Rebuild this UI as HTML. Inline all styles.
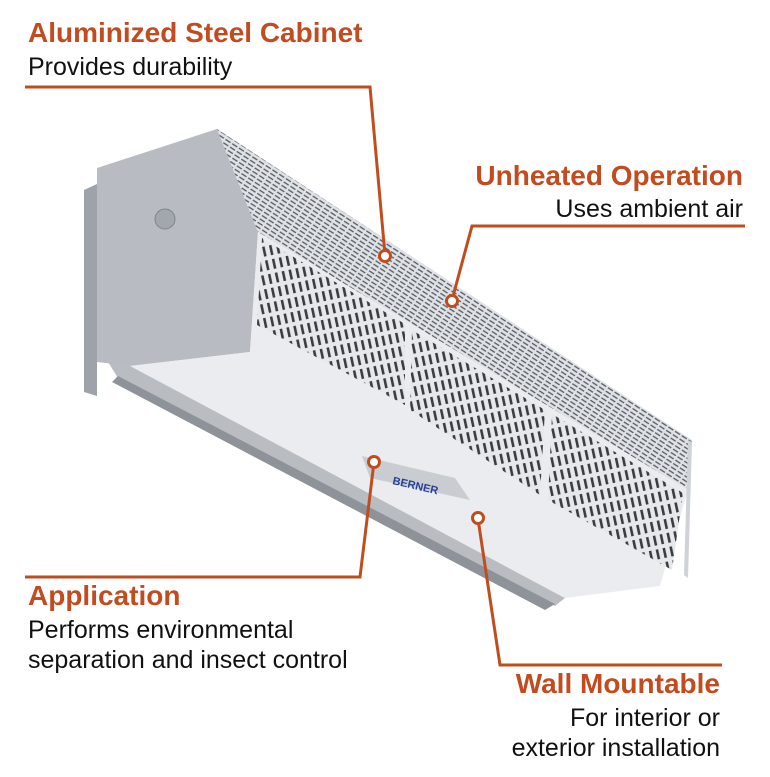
<!DOCTYPE html>
<html><head><meta charset="utf-8"><style>
html,body{margin:0;padding:0;background:#fff;}
svg{display:block}
.t{font-family:"Liberation Sans",sans-serif;font-weight:bold;fill:#c24b1f;font-size:28px}
.s{font-family:"Liberation Sans",sans-serif;fill:#111;font-size:25px}
</style></head><body>
<svg width="770" height="777" viewBox="0 0 770 777" xmlns="http://www.w3.org/2000/svg">
<defs>
<pattern id="p1" width="7" height="14" patternUnits="userSpaceOnUse" patternTransform="rotate(-12)">
<rect width="7" height="14" fill="#e6e8eb"/><rect x="2" y="2" width="2.6" height="10" fill="#3a3d42"/>
</pattern>
<pattern id="p2" width="8" height="4" patternUnits="userSpaceOnUse" patternTransform="rotate(33)">
<rect width="8" height="4" fill="#dfe2e6"/><rect x="1" y="1.4" width="6" height="1.3" fill="#55595f"/>
</pattern>
</defs>
<!-- back plate -->
<polygon points="84,190 97,184 97,396 84,392" fill="#9ea3a9"/>
<!-- bottom tray -->
<polygon points="108,362 130,365 565,598 555,606 118,378" fill="#b9bdc2"/>
<polygon points="118,376 555,604 545,610 112,382" fill="#8e9399"/>
<!-- end cap -->
<polygon points="97,168 217,129 258,232 250,352 130,366 97,362" fill="#b8bcc2"/>
<circle cx="165" cy="219" r="10" fill="#a2a7ad" stroke="#7f848a"/>
<!-- top face -->
<polygon points="217,129 692,440 688,490 258,232" fill="url(#p2)"/>
<!-- front face -->
<polygon points="258,232 688,490 660,586 565,598 130,366 250,352" fill="#eaecef"/>
<!-- perforated bands on front -->
<polygon points="262,238 405,324 405,405 257,325" fill="url(#p1)"/>
<polygon points="412,330 545,410 540,495 410,410" fill="url(#p1)"/>
<polygon points="552,414 683,493 672,570 548,500" fill="url(#p1)"/>
<!-- far end -->
<polygon points="688,440 692,442 688,578 684,575" fill="#cfd2d6"/>
<!-- logo plate -->
<polygon points="362,456 455,478 470,500 370,478" fill="#c9ccd1"/>
<text x="392" y="484" font-family="Liberation Sans,sans-serif" font-size="11" font-weight="bold" fill="#2b3f9a" transform="rotate(13 392 484)">BERNER</text>
<!-- callout lines -->
<g fill="none" stroke="#bf4e1e" stroke-width="3">
<polyline points="25,87 370,87 385,255"/>
<polyline points="745,226 472,226 452,300"/>
<polyline points="25,577 360,577 374,462"/>
<polyline points="722,665 500,665 478,519"/>
</g>
<g fill="#fff" stroke="#bf4e1e" stroke-width="3">
<circle cx="385" cy="256" r="5.5"/>
<circle cx="452" cy="301" r="5.5"/>
<circle cx="374" cy="462" r="5.5"/>
<circle cx="478" cy="518" r="5.5"/>
</g>
<!-- text -->
<text class="t" x="28" y="42">Aluminized Steel Cabinet</text>
<text class="s" x="28" y="75">Provides durability</text>
<text class="t" x="743" y="185" text-anchor="end">Unheated Operation</text>
<text class="s" x="743" y="217" text-anchor="end">Uses ambient air</text>
<text class="t" x="28" y="605">Application</text>
<text class="s" x="28" y="638">Performs environmental</text>
<text class="s" x="28" y="668">separation and insect control</text>
<text class="t" x="720" y="693" text-anchor="end">Wall Mountable</text>
<text class="s" x="720" y="726" text-anchor="end">For interior or</text>
<text class="s" x="720" y="756" text-anchor="end">exterior installation</text>
</svg>
</body></html>
